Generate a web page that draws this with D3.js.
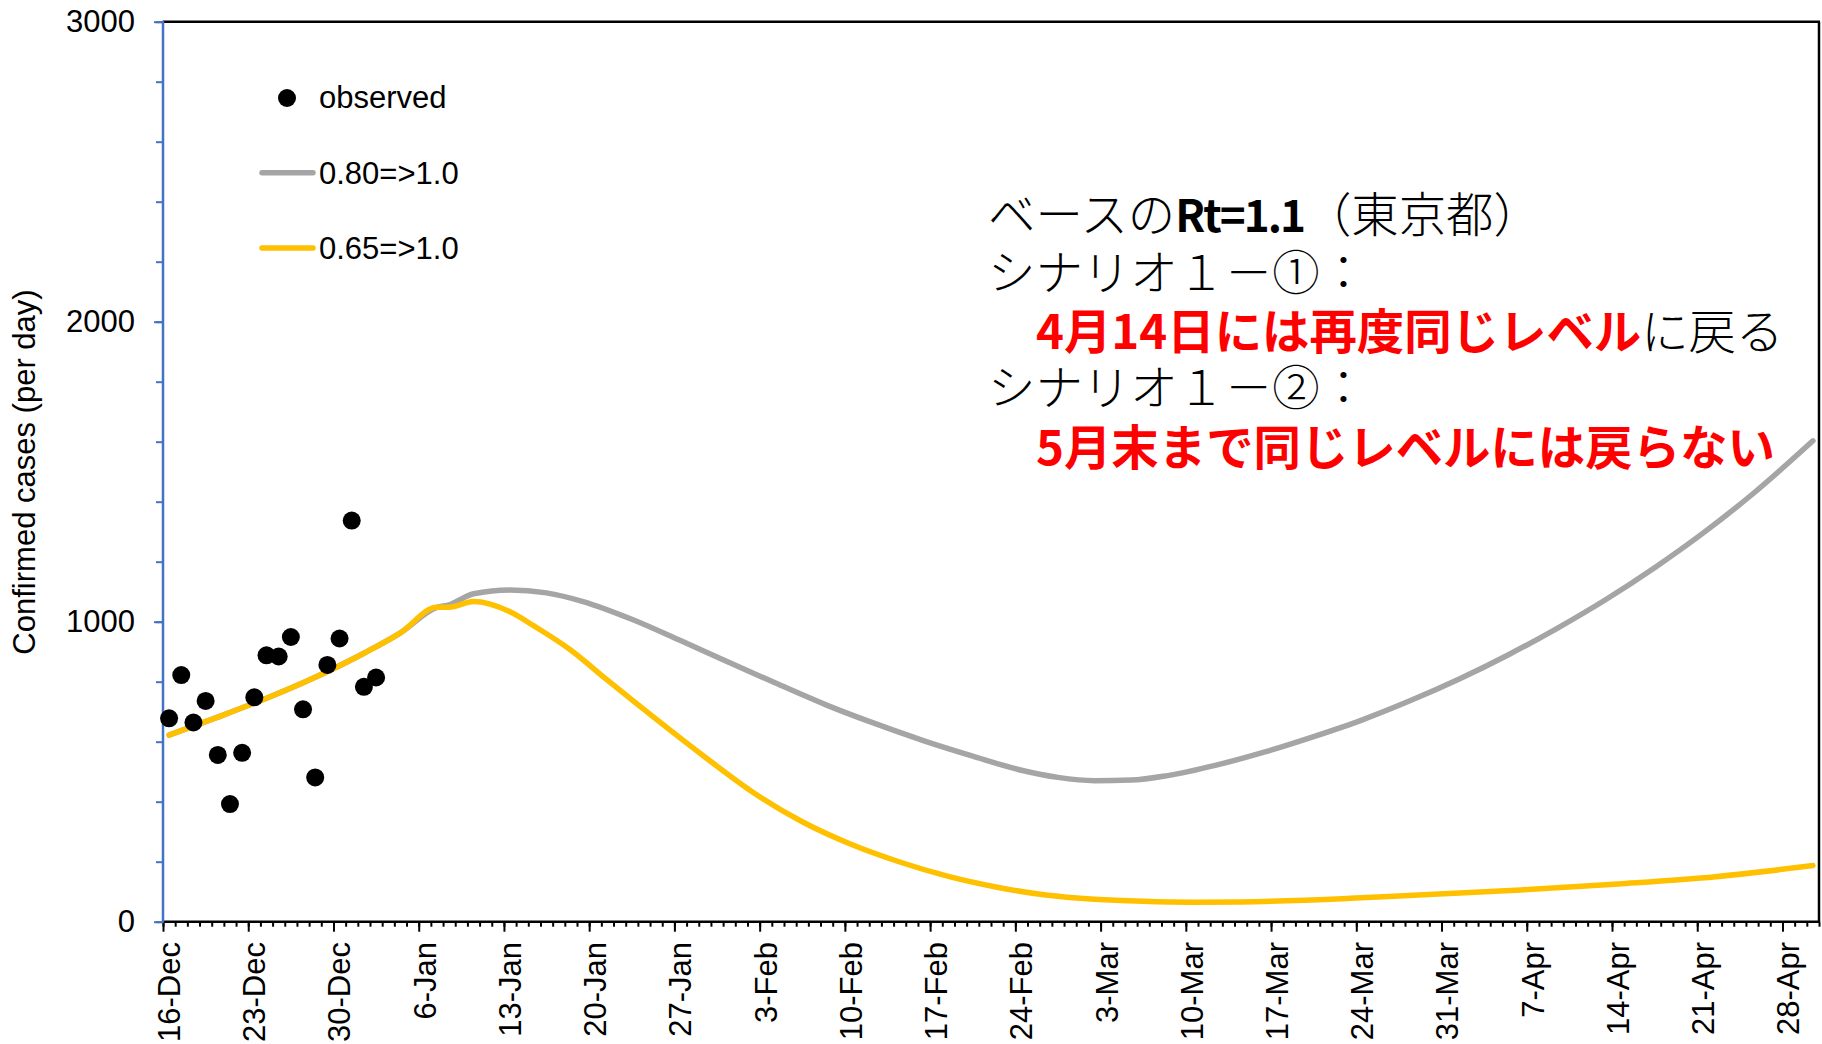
<!DOCTYPE html>
<html>
<head>
<meta charset="utf-8">
<script src="https://cdn.jsdelivr.net/npm/d3@7"></script>
<style>
  html, body { margin: 0; padding: 0; background: #fff; }
  svg { display: block; }
</style>
</head>
<body>
<svg id="chart" width="1822" height="1044"></svg>
<script>
// ---------- DATA ----------
const startDate = "2020-12-16";
const endDate = "2021-05-01";   // exclusive end of last category

const tickLabels = ["16-Dec","23-Dec","30-Dec","6-Jan","13-Jan","20-Jan","27-Jan","3-Feb","10-Feb","17-Feb",
  "24-Feb","3-Mar","10-Mar","17-Mar","24-Mar","31-Mar","7-Apr","14-Apr","21-Apr","28-Apr"];

const observedDates = ["2020-12-16","2020-12-17","2020-12-18","2020-12-19","2020-12-20","2020-12-21",
  "2020-12-22","2020-12-23","2020-12-24","2020-12-25","2020-12-26","2020-12-27","2020-12-28","2020-12-29",
  "2020-12-30","2020-12-31","2021-01-01","2021-01-02"];
const observedValues = [678,822,664,736,556,392,563,748,888,884,949,708,481,856,944,1337,783,814];

// scenario Rt 0.65 => 1.0 (yellow)
const yellowDates = ["2020-12-16","2020-12-20","2020-12-24","2020-12-28","2021-01-01","2021-01-04","2021-01-07",
  "2021-01-08","2021-01-10","2021-01-13","2021-01-15","2021-01-18","2021-01-21","2021-01-25","2021-01-29",
  "2021-02-02","2021-02-06","2021-02-10","2021-02-14","2021-02-18","2021-02-22","2021-02-26","2021-03-02",
  "2021-03-06","2021-03-10","2021-03-14","2021-03-23","2021-03-29","2021-04-06","2021-04-14","2021-04-22",
  "2021-04-30"];
const yellowValues = [622,682,745,815,895,963,1048,1048,1067,1033,985,905,805,675,549,430,333,258,199,151,
  115,89,75,68,65,66,78,90,106,126,150,187];

// scenario Rt 0.80 => 1.0 (gray)
const grayDates = ["2020-12-16","2020-12-20","2020-12-24","2020-12-28","2021-01-01","2021-01-04","2021-01-07",
  "2021-01-08","2021-01-10","2021-01-13","2021-01-16","2021-01-19","2021-01-23","2021-01-27","2021-01-31",
  "2021-02-04","2021-02-08","2021-02-12","2021-02-16","2021-02-20","2021-02-24","2021-02-27","2021-03-02",
  "2021-03-05","2021-03-08","2021-03-12","2021-03-16","2021-03-20","2021-03-24","2021-03-28","2021-04-01",
  "2021-04-05","2021-04-09","2021-04-13","2021-04-17","2021-04-21","2021-04-25","2021-04-30"];
const grayValues = [622,682,745,815,895,963,1048,1056,1093,1106,1096,1067,1008,937,864,792,722,660,603,552,505,
  481,470,472,487,522,566,617,673,738,810,890,978,1074,1180,1296,1424,1603];

const legendLabels = ["observed","0.80=>1.0","0.65=>1.0"];
const yMajorTicks = [0,1000,2000,3000];
const yTitle = "Confirmed cases (per day)";

(function () {
// ---------- SETUP ----------
const parse = d3.utcParse("%Y-%m-%d");
const svg = d3.select("#chart");
const FONT = "'Liberation Sans', Arial, sans-serif";
const JP = "'Noto Sans CJK JP', sans-serif";

const pLeft = 163, pRight = 1819, pTop = 21.7, pBottom = 921.7;
const t0 = parse(startDate), t1 = parse(endDate);
const x = d3.scaleUtc().domain([t0, t1]).range([pLeft, pRight]);
const y = d3.scaleLinear().domain([0, 3000]).range([pBottom, pTop]);
const mid = d => d3.utcHour.offset(d, 12);   // category centre

const allDays = d3.utcDay.range(t0, t1);
const weekly = allDays.filter((d, i) => i % 7 === 0);

// plot frame (top & right)
svg.append("line").attr("x1", pLeft).attr("x2", pRight + 1).attr("y1", pTop).attr("y2", pTop)
  .attr("stroke", "#000").attr("stroke-width", 2.5);
svg.append("line").attr("x1", pRight).attr("x2", pRight).attr("y1", pTop).attr("y2", pBottom)
  .attr("stroke", "#000").attr("stroke-width", 2.5);

// x axis: minor daily ticks
const gxMinor = svg.append("g").attr("transform", `translate(0,${pBottom})`)
  .call(d3.axisBottom(x).tickValues(allDays.concat([t1])).tickSize(5).tickFormat(""));
gxMinor.select(".domain").remove();
gxMinor.selectAll(".tick line").attr("stroke", "#000").attr("stroke-width", 2);
// major weekly ticks
const gxMajor = svg.append("g").attr("transform", `translate(0,${pBottom})`)
  .call(d3.axisBottom(x).tickValues(weekly).tickSize(10).tickFormat(""));
gxMajor.select(".domain").remove();
gxMajor.selectAll(".tick line").attr("stroke", "#000").attr("stroke-width", 2);
svg.append("line").attr("x1", pLeft).attr("x2", pRight + 1).attr("y1", pBottom).attr("y2", pBottom)
  .attr("stroke", "#000").attr("stroke-width", 2.5);

// x tick labels (centered on category, rotated)
svg.append("g").selectAll("text").data(weekly).join("text")
  .attr("transform", (d) => `translate(${x(mid(d))},942) rotate(-90)`)
  .attr("dy", "0.35em")
  .attr("text-anchor", "end")
  .attr("font-family", FONT).attr("font-size", 31).attr("fill", "#000")
  .text((d, i) => tickLabels[i]);

// y axis (blue)
const gyMinor = svg.append("g").attr("transform", `translate(${pLeft},0)`)
  .call(d3.axisLeft(y).tickValues(d3.range(0, 3001, 200)).tickSize(7).tickFormat(""));
gyMinor.select(".domain").remove();
gyMinor.selectAll(".tick line").attr("stroke", "#4472C4").attr("stroke-width", 2);
const gy = svg.append("g").attr("transform", `translate(${pLeft},0)`)
  .call(d3.axisLeft(y).tickValues(yMajorTicks).tickSize(9).tickPadding(19).tickFormat(d3.format("d")));
gy.select(".domain").remove();
gy.selectAll(".tick line").attr("stroke", "#4472C4").attr("stroke-width", 2);
gy.selectAll(".tick text").attr("font-family", FONT).attr("font-size", 31).attr("fill", "#000");
svg.append("line").attr("x1", pLeft).attr("x2", pLeft).attr("y1", pTop - 1).attr("y2", pBottom + 1)
  .attr("stroke", "#4472C4").attr("stroke-width", 2.5);

// y title
svg.append("text").attr("transform", "translate(35,472) rotate(-90)")
  .attr("text-anchor", "middle").attr("font-family", FONT).attr("font-size", 31).attr("fill", "#000")
  .text(yTitle);

// ---------- SERIES ----------
const line = d3.line().x(d => x(mid(d.date))).y(d => y(d.value)).curve(d3.curveMonotoneX);
const grayData = grayDates.map((d, i) => ({ date: parse(d), value: grayValues[i] }));
const yellowData = yellowDates.map((d, i) => ({ date: parse(d), value: yellowValues[i] }));

svg.append("path").datum(grayData).attr("d", line).attr("fill", "none")
  .attr("stroke", "#A5A5A5").attr("stroke-width", 5.5).attr("stroke-linecap", "round").attr("stroke-linejoin", "round");
svg.append("path").datum(yellowData).attr("d", line).attr("fill", "none")
  .attr("stroke", "#FFC000").attr("stroke-width", 5.5).attr("stroke-linecap", "round").attr("stroke-linejoin", "round");

svg.append("g").selectAll("circle").data(observedDates).join("circle")
  .attr("cx", d => x(mid(parse(d)))).attr("cy", (d, i) => y(observedValues[i]))
  .attr("r", 9).attr("fill", "#000");

// ---------- LEGEND ----------
const lg = svg.append("g");
lg.append("circle").attr("cx", 287).attr("cy", 98).attr("r", 9).attr("fill", "#000");
lg.append("line").attr("x1", 262).attr("x2", 313).attr("y1", 172.7).attr("y2", 172.7)
  .attr("stroke", "#A5A5A5").attr("stroke-width", 5.5).attr("stroke-linecap", "round");
lg.append("line").attr("x1", 262).attr("x2", 313).attr("y1", 248).attr("y2", 248)
  .attr("stroke", "#FFC000").attr("stroke-width", 5.5).attr("stroke-linecap", "round");
lg.selectAll("text").data(legendLabels).join("text")
  .attr("x", 319).attr("y", (d, i) => [108, 183.5, 258.5][i])
  .attr("font-family", FONT).attr("font-size", 31).attr("fill", "#000")
  .text(d => d);

// ---------- ANNOTATION ----------
const ann = svg.append("g").attr("font-family", JP).attr("font-size", 47.4);
const l1 = ann.append("text").attr("x", 988).attr("y", 232);
l1.append("tspan").attr("font-weight", 300).attr("fill", "#000").text("ベースの");
l1.append("tspan").attr("font-weight", 700).attr("font-size", 44).attr("letter-spacing", -2)
  .attr("fill", "#000").text("Rt=1.1");
l1.append("tspan").attr("font-weight", 300).attr("fill", "#000").text("（東京都）");
ann.append("text").attr("x", 988).attr("y", 290).attr("font-weight", 300).attr("fill", "#000")
  .text("シナリオ１－①：");
const l3 = ann.append("text").attr("x", 1036).attr("y", 349);
l3.append("tspan").attr("font-weight", 700).attr("fill", "#FF0000").text("4月14日には再度同じレベル");
l3.append("tspan").attr("font-weight", 300).attr("fill", "#000").text("に戻る");
ann.append("text").attr("x", 988).attr("y", 405).attr("font-weight", 300).attr("fill", "#000")
  .text("シナリオ１－②：");
ann.append("text").attr("x", 1036).attr("y", 465).attr("font-weight", 700).attr("fill", "#FF0000")
  .text("5月末まで同じレベルには戻らない");
})();
</script>
</body>
</html>
